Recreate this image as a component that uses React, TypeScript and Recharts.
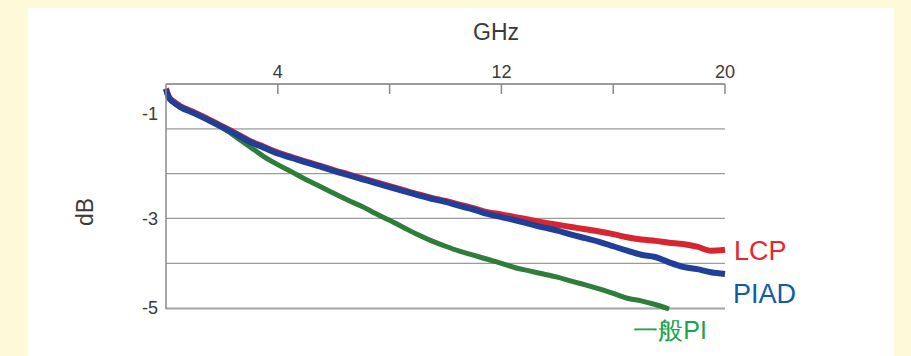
import React from "react";
import { CartesianGrid, LabelList, Line, LineChart, XAxis, YAxis } from "recharts";

const ghz = [0, 0.1, 0.25, 0.5, 1, 1.5, 2, 2.5, 3, 3.5, 4, 4.5, 5, 5.5, 6, 6.5, 7, 7.5, 8, 8.5, 9, 9.5, 10, 10.5, 11, 11.5, 12, 12.5, 13, 13.5, 14, 14.5, 15, 15.5, 16, 16.5, 17, 17.5, 18, 18.5, 19, 19.5, 20];

const lcp = [-0.1, -0.28, -0.38, -0.49, -0.63, -0.78, -0.94, -1.1, -1.27, -1.4, -1.53, -1.63, -1.73, -1.82, -1.92, -2.01, -2.1, -2.19, -2.28, -2.37, -2.46, -2.54, -2.61, -2.69, -2.77, -2.86, -2.91, -2.97, -3.03, -3.09, -3.14, -3.19, -3.24, -3.29, -3.35, -3.42, -3.47, -3.5, -3.54, -3.57, -3.63, -3.72, -3.7];

const piad = [-0.12, -0.3, -0.4, -0.51, -0.65, -0.8, -0.96, -1.12, -1.29, -1.42, -1.55, -1.65, -1.75, -1.84, -1.94, -2.03, -2.12, -2.21, -2.3, -2.39, -2.48, -2.56, -2.63, -2.72, -2.8, -2.9, -2.97, -3.04, -3.12, -3.2, -3.27, -3.36, -3.44, -3.52, -3.62, -3.72, -3.81, -3.86, -3.98, -4.08, -4.13, -4.2, -4.24];

const ippanPi = [-0.12, -0.3, -0.4, -0.51, -0.65, -0.8, -0.97, -1.18, -1.4, -1.62, -1.8, -1.96, -2.13, -2.28, -2.44, -2.59, -2.73, -2.89, -3.04, -3.2, -3.36, -3.5, -3.62, -3.73, -3.82, -3.91, -4.0, -4.1, -4.17, -4.24, -4.31, -4.4, -4.48, -4.57, -4.67, -4.78, -4.84, -4.92, -5.02, null, null, null, null];

const xTicks = [4, 8, 12, 16, 20];
const xTickLabels = [4, 12, 20];
const yTicks = [0, -1, -2, -3, -4, -5];
const yTickLabels = [-1, -3, -5];

const data = ghz.map((g, i) => ({ ghz: g, lcp: lcp[i], piad: piad[i], pi: ippanPi[i] }));

const FONT = "'Liberation Sans', Arial, sans-serif";
const TEXT = "#3a3a3a";

function XTick(props: any) {
	const { x, y, payload } = props;
	return <g>
		<line x1={x} x2={x} y1={y + 6} y2={y + 16} stroke="#8a8a8a" strokeWidth={1.5} />
		{xTickLabels.includes(payload.value) &&
			<text x={x} y={y} textAnchor="middle" fontSize={18} fill={TEXT} fontFamily={FONT}>{payload.value}</text>}
	</g>;
}

function YTick(props: any) {
	const { x, y, payload } = props;
	if (!yTickLabels.includes(payload.value)) return <g />;
	// the -1 label sits well above its gridline in the original
	const shift = payload.value === -1 ? -15 : 0;
	return <text x={x} y={y + shift} dy="0.35em" textAnchor="end" fontSize={18} fill={TEXT} fontFamily={FONT}>{payload.value}</text>;
}

function endLabel(name: string, color: string, last: number, dx: number, dy: number, anchor: string, size: number) {
	return (props: any) => {
		if (props.index !== last) return null;
		return <text x={props.x + dx} y={props.y + dy} textAnchor={anchor} fontSize={size} fill={color} fontFamily={FONT}>{name}</text>;
	};
}

export default function App() {
	const lastPi = ippanPi.findIndex((v) => v === null) - 1;
	return <div style={{ position: "absolute", left: 0, top: 0, width: 911, height: 356, background: "#fef9d8" }}>
		<div style={{ position: "absolute", left: 28, top: 8, width: 866, height: 348, background: "#ffffff" }} />
		<div style={{ position: "absolute", left: 0, top: 0 }}>
			<LineChart width={911} height={356} data={data} margin={{ top: 0, right: 186, bottom: 47, left: 4 }}>
				<CartesianGrid vertical={false} stroke="#9c9c9c" strokeWidth={1.2} />
				<XAxis
					type="number"
					dataKey="ghz"
					orientation="top"
					domain={[0, 20]}
					ticks={xTicks}
					height={84}
					tickSize={0}
					tickMargin={6}
					tickLine={false}
					axisLine={{ stroke: "#8a8a8a", strokeWidth: 1.5 }}
					tick={<XTick />}
					label={{
						content: () => <text x={496} y={40} textAnchor="middle" fontSize={23} fill={TEXT} fontFamily={FONT}>GHz</text>,
					}}
				/>
				<YAxis
					type="number"
					domain={[-5, 0]}
					ticks={yTicks}
					width={162}
					tickSize={0}
					tickMargin={8}
					tickLine={false}
					axisLine={{ stroke: "#8a8a8a", strokeWidth: 1.5 }}
					tick={<YTick />}
					label={{
						content: () => <text x={93} y={212} transform="rotate(-90 93 212)" textAnchor="middle" fontSize={23} fill={TEXT} fontFamily={FONT}>dB</text>,
					}}
				/>
				<Line type="monotone" dataKey="pi" stroke="#2f7d3b" strokeWidth={5} dot={false} isAnimationActive={false} connectNulls={false}>
					<LabelList dataKey="pi" content={endLabel("一般PI", "#1ea34d", lastPi, 1, 30, "middle", 25)} />
				</Line>
				<Line type="monotone" dataKey="lcp" stroke="#d7262f" strokeWidth={6} dot={false} isAnimationActive={false}>
					<LabelList dataKey="lcp" content={endLabel("LCP", "#e8262d", lcp.length - 1, 9, 10, "start", 27)} />
				</Line>
				<Line type="monotone" dataKey="piad" stroke="#213f99" strokeWidth={6} dot={false} isAnimationActive={false}>
					<LabelList dataKey="piad" content={endLabel("PIAD", "#0f5cab", piad.length - 1, 8, 29, "start", 27)} />
				</Line>
			</LineChart>
		</div>
	</div>;
}
